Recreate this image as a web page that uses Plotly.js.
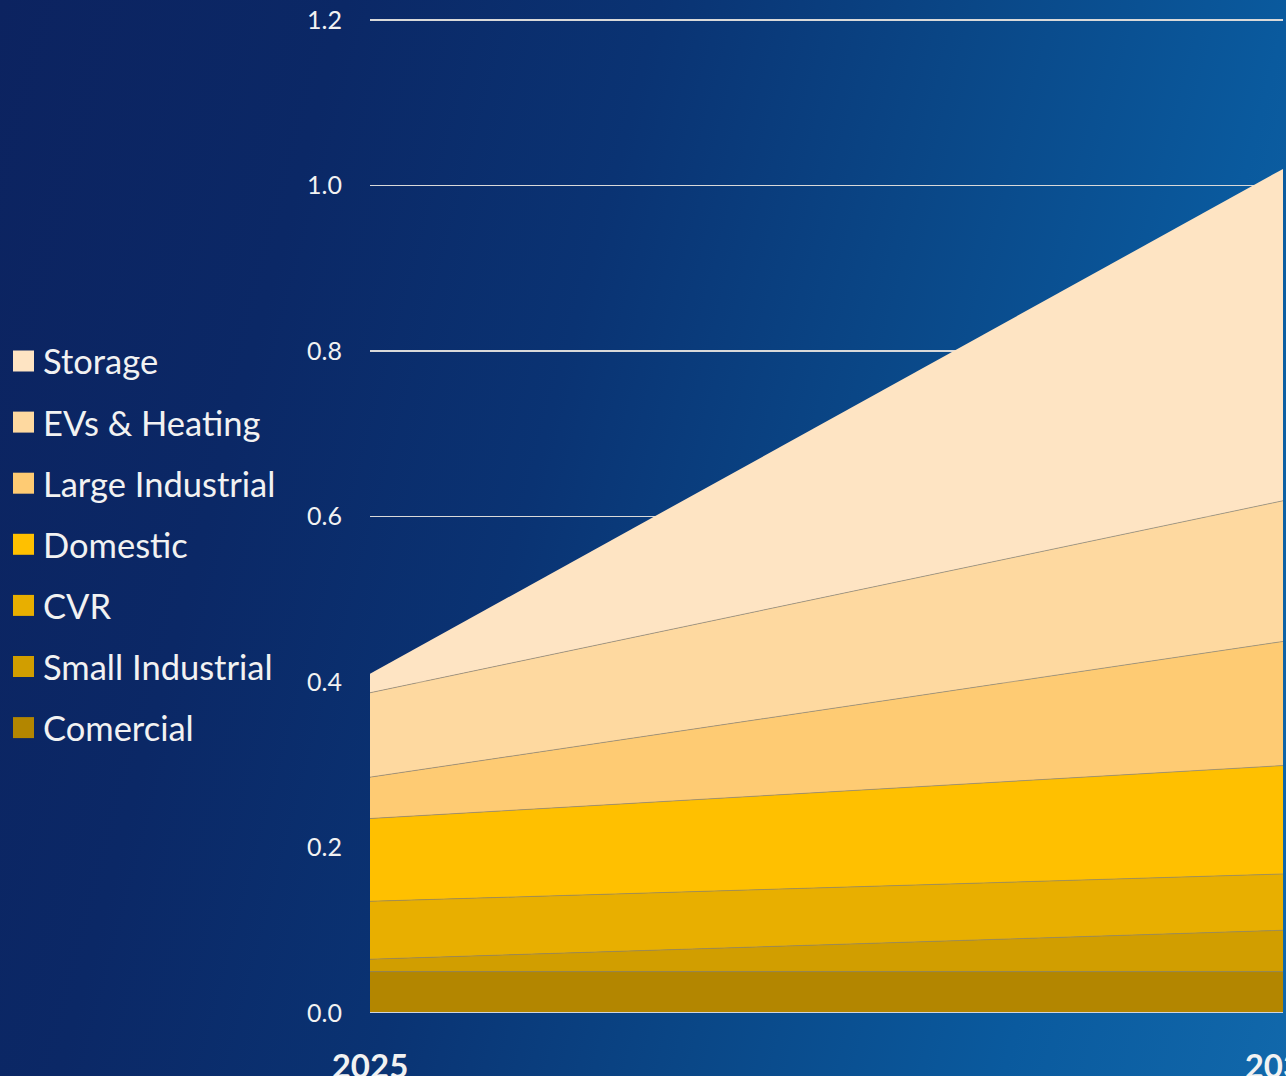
<!DOCTYPE html>
<html>
<head>
<meta charset="utf-8">
<script src="https://cdn.plot.ly/plotly-3.0.1.min.js"></script>
<style>
  html, body { margin: 0; padding: 0; overflow: hidden; width: 1286px; height: 1076px; }
  body { background: linear-gradient(105deg, #0c2360 0%, #0b2866 22%, #0a3373 42%, #0a4787 62%, #0a5a9e 82%, #1168ab 100%); }
  #chart { width: 1286px; height: 1076px; }
</style>
</head>
<body>
<div id="chart"></div>
<script>
// ---- data ----
const years = [2025, 2030];
const yearLabels = ['2025', '2030'];
const seriesNames = ['Comercial', 'Small Industrial', 'CVR', 'Domestic', 'Large Industrial', 'EVs & Heating', 'Storage'];
const comercial = [0.050, 0.050];
const smallIndustrial = [0.015, 0.050];
const cvr = [0.070, 0.068];
const domestic = [0.100, 0.131];
const largeIndustrial = [0.050, 0.150];
const evsHeating = [0.102, 0.170];
const storage = [0.023, 0.401];
const yTicks = [0, 0.2, 0.4, 0.6, 0.8, 1.0, 1.2];
const yTickLabels = ['0.0', '0.2', '0.4', '0.6', '0.8', '1.0', '1.2'];

// ---- styles ----
const colors = ['#b38600', '#d19e00', '#e8af00', '#ffc000', '#fecb73', '#fed9a0', '#fee4c3'];
const seriesValues = [comercial, smallIndustrial, cvr, domestic, largeIndustrial, evsHeating, storage];

const W = 1286, H = 1076;
const yMax = 1.2;
const yTop = yMax * 1.003;
const M = { l: 370, r: 3, b: 63 };
M.t = 20 - Math.round((yTop - yMax) / yMax * (H - 63 - 20));
const plotW = W - M.l - M.r, plotH = H - M.t - M.b;
const px2x = p => (p - M.l) / plotW;
const px2y = p => (H - M.b - p) / plotH;

const traces = seriesNames.map((name, i) => ({
  type: 'scatter',
  x: years,
  y: seriesValues[i],
  name: name,
  mode: 'lines',
  stackgroup: 'one',
  fillcolor: colors[i],
  line: { color: i === seriesNames.length - 1 ? 'rgba(0,0,0,0)' : 'rgba(150,135,110,0.85)', width: i === seriesNames.length - 1 ? 0 : 0.8 },
  showlegend: false,
  hoverinfo: 'x+y+name'
}));

// manual legend (top entry = last series)
const shapes = [];
const annotations = [];
const legendTop = 361, legendStep = 61.1;
const legendOrder = seriesNames.slice().reverse();
const legendColors = colors.slice().reverse();
legendOrder.forEach((name, k) => {
  const cy = legendTop + k * legendStep;
  shapes.push({
    type: 'rect', xref: 'paper', yref: 'paper',
    x0: px2x(13), x1: px2x(34), y0: px2y(cy + 10.5), y1: px2y(cy - 10.5),
    fillcolor: legendColors[k], line: { width: 0 }
  });
  annotations.push({
    xref: 'paper', yref: 'paper', x: px2x(41), y: px2y(cy),
    xanchor: 'left', yanchor: 'middle', showarrow: false,
    text: name, font: { family: 'Lato, sans-serif', size: 34.5, color: '#f2f2f2' }
  });
});
// baseline at zero
shapes.push({
  type: 'line', xref: 'paper', yref: 'y', x0: 0, x1: 1, y0: 0, y1: 0,
  line: { color: '#d0d4dc', width: 2 }, layer: 'above'
});

const layout = {
  width: W, height: H,
  margin: M,
  paper_bgcolor: 'rgba(0,0,0,0)',
  plot_bgcolor: 'rgba(0,0,0,0)',
  showlegend: false,
  xaxis: {
    type: 'linear',
    range: [years[0], years[1]],
    tickvals: years,
    ticktext: yearLabels,
    showgrid: false,
    zeroline: false,
    showline: false,
    ticklabeloverflow: 'allow',
    ticks: 'outside', ticklen: 24, tickcolor: 'rgba(0,0,0,0)',
    tickfont: { family: 'Lato, sans-serif', size: 33, color: '#f2f2f2', weight: 'bold' },
    fixedrange: true
  },
  yaxis: {
    range: [0, yTop],
    tickvals: yTicks,
    ticktext: yTickLabels,
    showgrid: true,
    gridcolor: '#d9d9d9',
    gridwidth: 1.5,
    zeroline: false,
    showline: false,
    ticks: 'outside', ticklen: 22, tickcolor: 'rgba(0,0,0,0)',
    tickfont: { family: 'Lato, sans-serif', size: 25, color: '#f2f2f2' },
    fixedrange: true
  },
  shapes: shapes,
  annotations: annotations
};

Plotly.newPlot('chart', traces, layout, { displayModeBar: false, staticPlot: true });
</script>
</body>
</html>
